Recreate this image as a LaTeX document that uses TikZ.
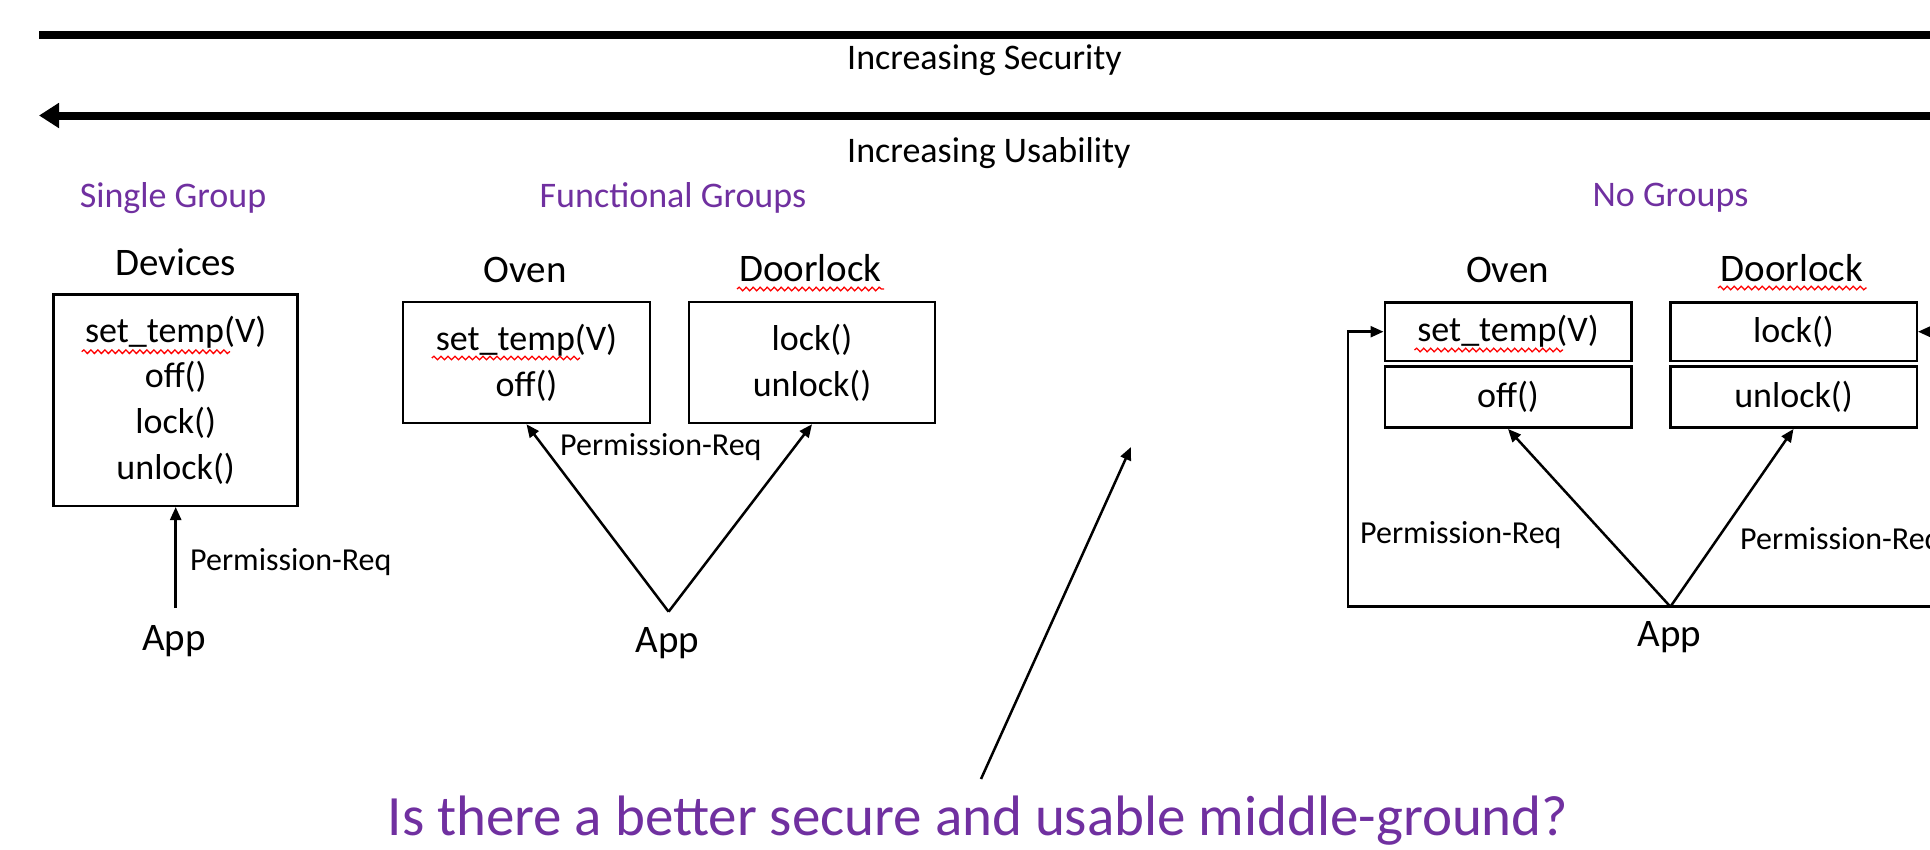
\documentclass[tikz,border=0pt]{standalone}
\usepackage{fontspec}
\setmainfont{Carlito}
\usetikzlibrary{arrows.meta,decorations.pathmorphing}
\definecolor{grpPurple}{HTML}{7030A0}
\begin{document}
\begin{tikzpicture}[x=1pt,y=-1pt,
  box/.style={draw, line width=2.5pt, inner sep=0pt, align=center, font=\fontsize{36}{45.7}\selectfont},
  ttl/.style={inner sep=0pt, font=\fontsize{39}{39}\selectfont},
  grp/.style={inner sep=0pt, text=grpPurple, font=\fontsize{36}{36}\selectfont},
  lbl/.style={inner sep=0pt, font=\fontsize{32}{32}\selectfont},
  axislbl/.style={inner sep=0pt, anchor=west, font=\fontsize{36}{36}\selectfont},
  arr/.style={line width=2.5pt, -{Triangle[length=13pt,width=11pt]}},
  spell/.style={red, line width=1.3pt, decorate, decoration={snake, amplitude=1.8pt, segment length=7pt}},
  bar/.style={line width=8pt}
]
\useasboundingbox (0,0) rectangle (1930,849);
\clip (0,0) rectangle (1930,849);

% top axes
\coordinate (sL) at (39,35);
\coordinate (sR) at (1960,35);
\coordinate (uL) at (39,115.5);
\coordinate (uR) at (1960,115.5);
\draw[bar] (sL) -- (sR);
\draw[bar, {Triangle[length=20pt,width=24pt]}-] (uL) -- (uR);
\node[axislbl] (sec) at (847,60) {Increasing Security};
\node[axislbl] (usa) at (847,153) {Increasing Usability};

% group labels
\node[grp] (g1) at (173,198) {Single Group};
\node[grp] (g2) at (673,198) {Functional Groups};
\node[grp] (g3) at (1670.5,198) {No Groups};

% Single group
\node[ttl] (devT) at (175.7,262.5) {Devices};
\node[box, minimum width=244pt, minimum height=211.5pt] (dev) at (175.7,400)
  {set\_temp(V)\\off()\\lock()\\unlock()};
\node[ttl] (app1) at (174,641) {App};
\coordinate (s1) at (175.7,608);
\draw[arr] (s1) -- (dev.south);
\node[lbl, anchor=west] (p1) at (190,562.5) {Permission-Req};

% Functional groups
\node[ttl] (ovenT) at (525,270) {Oven};
\node[ttl] (doorT) at (810.5,268) {Doorlock};
\node[box, minimum width=247pt, minimum height=121pt] (ovenF) at (526.5,362.5)
  {set\_temp(V)\\off()};
\node[box, minimum width=246pt, minimum height=121pt] (doorF) at (812,362.5)
  {lock()\\unlock()};
\coordinate (f1) at (668.6,611.7);
\draw[arr] (f1) -- (ovenF.south);
\draw[arr] (f1) -- (doorF.south);
\node[lbl, anchor=west] (p2) at (560,447.5) {Permission-Req};
\node[ttl] (app2) at (667.5,643) {App};

% middle arrow
\coordinate (m1) at (981,779);
\coordinate (m2) at (1131,447);
\draw[arr] (m1) -- (m2);

% No groups
\node[ttl] (ovenN) at (1507.5,270) {Oven};
\node[ttl] (doorN) at (1792,268) {Doorlock};
\node[box, minimum width=246.5pt, minimum height=58.7pt] (setN) at (1508,331.7) {set\_temp(V)};
\node[box, minimum width=246.5pt, minimum height=61pt] (offN) at (1508,397.2) {off()};
\node[box, minimum width=246.5pt, minimum height=58.7pt] (lockN) at (1793.5,331.7) {lock()};
\node[box, minimum width=246.5pt, minimum height=61pt] (unlockN) at (1793.5,397.2) {unlock()};
\coordinate (n1) at (1670.4,606.7);
\coordinate (nl) at (1348.2,606.7);
\coordinate (nr) at (1954,606.7);
\draw[arr] (n1) -- (offN.south);
\draw[arr] (n1) -- (unlockN.south);
\draw[arr] (n1) -- (nl) |- (setN.west);
\draw[arr] (n1) -- (nr) |- (lockN.east);
\node[lbl, anchor=west] (p3) at (1360,535.5) {Permission-Req};
\node[lbl, anchor=west] (p4) at (1740,541) {Permission-Req};
\node[ttl] (app3) at (1669.6,637) {App};

% spell-check underlines
\draw[spell] (81.7,351.7) -- (230,351.7);
\draw[spell] (431.8,358) -- (580,358);
\draw[spell] (1414.5,350) -- (1563,350);
\draw[spell] (737,289) -- (884,289);
\draw[spell] (1718,288) -- (1866.5,288);

% question
\node[inner sep=0pt, text=grpPurple, font=\fontsize{57}{57}\selectfont] (q) at (978,821)
  {Is there a better secure and usable middle-ground?};
\end{tikzpicture}
\end{document}
